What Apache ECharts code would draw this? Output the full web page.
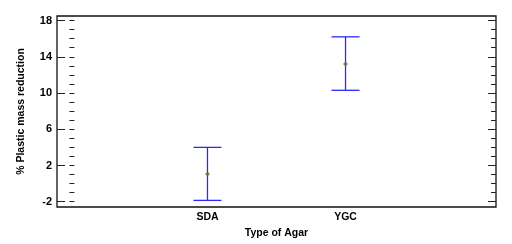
<!DOCTYPE html>
<html>
<head>
<meta charset="utf-8">
<script src="https://cdn.jsdelivr.net/npm/echarts@6/dist/echarts.min.js"></script>
<style>
html,body{margin:0;padding:0;background:#fff}
#Chart{width:512px;height:244px}
</style>
</head>
<body>
<div id="Chart"></div>
<script>
// data
var categories=['SDA','YGC']
var catPos=[1,2]
var means=[1.05,13.2]
var lower=[-1.85,10.3]
var upper=[4.0,16.2]
var yMajor=[-2,2,6,10,14,18]
var yMinor=[]
for(var v=-2;v<=18;v++){yMinor.push(v)}

var font='Liberation Sans, Arial, sans-serif'

function yAxisDef(pos,ticks,len,showLabel){
    return {
        type:'value',position:pos,min:-2.58,max:18.5,
        axisLine:{show:false},
        splitLine:{show:false},
        axisTick:{show:true,inside:true,length:len,customValues:ticks,lineStyle:{color:'#222',width:1}},
        axisLabel:{show:showLabel,customValues:yMajor,color:'#000',fontWeight:'bold',fontSize:11,fontFamily:font,margin:5},
        name:showLabel?'% Plastic mass reduction':'',
        nameLocation:'middle',nameGap:30,
        nameTextStyle:{color:'#000',fontWeight:'bold',fontSize:10.5,fontFamily:font}
    }
}

var errData=[]
for(var i=0;i<categories.length;i++){
    errData.push([catPos[i],lower[i],upper[i]])
}
var ptData=[]
for(var i=0;i<categories.length;i++){
    ptData.push([catPos[i],means[i]])
}

var myChart=echarts.init(document.getElementById('Chart'))
var option={
    animation:false,
    grid:{left:57,right:16,top:16,bottom:37,show:true,borderColor:'#111',borderWidth:1.3},
    xAxis:{
        type:'value',min:-0.09,max:3.09,
        axisLine:{show:false},
        splitLine:{show:false},
        axisTick:{show:false},
        axisLabel:{customValues:catPos,color:'#000',fontWeight:'bold',fontSize:10.5,fontFamily:font,margin:5,
            formatter:function(val){
                var idx=catPos.indexOf(val)
                return idx>=0?categories[idx]:''
            }},
        name:'Type of Agar',nameLocation:'middle',nameGap:19,
        nameTextStyle:{color:'#000',fontWeight:'bold',fontSize:10.5,fontFamily:font}
    },
    yAxis:[
        yAxisDef('left',yMinor,5,true),
        yAxisDef('left',yMajor,8,false),
        yAxisDef('right',yMinor,5,false),
        yAxisDef('right',yMajor,8,false)
    ],
    series:[
        {
            type:'custom',
            data:errData,
            renderItem:function(params,api){
                var x=api.value(0)
                var lo=api.coord([x,api.value(1)])
                var hi=api.coord([x,api.value(2)])
                var w=14
                var st={stroke:'#2a2aff',lineWidth:1.3}
                return {type:'group',children:[
                    {type:'line',shape:{x1:lo[0],y1:lo[1],x2:hi[0],y2:hi[1]},style:st},
                    {type:'line',shape:{x1:lo[0]-w,y1:lo[1],x2:lo[0]+w,y2:lo[1]},style:st},
                    {type:'line',shape:{x1:hi[0]-w,y1:hi[1],x2:hi[0]+w,y2:hi[1]},style:st}
                ]}
            }
        },
        {
            type:'scatter',
            data:ptData,
            symbol:'diamond',
            symbolSize:5,
            itemStyle:{color:'#6f6f28'},
            z:5
        }
    ]
}
myChart.setOption(option)
</script>
</body>
</html>
